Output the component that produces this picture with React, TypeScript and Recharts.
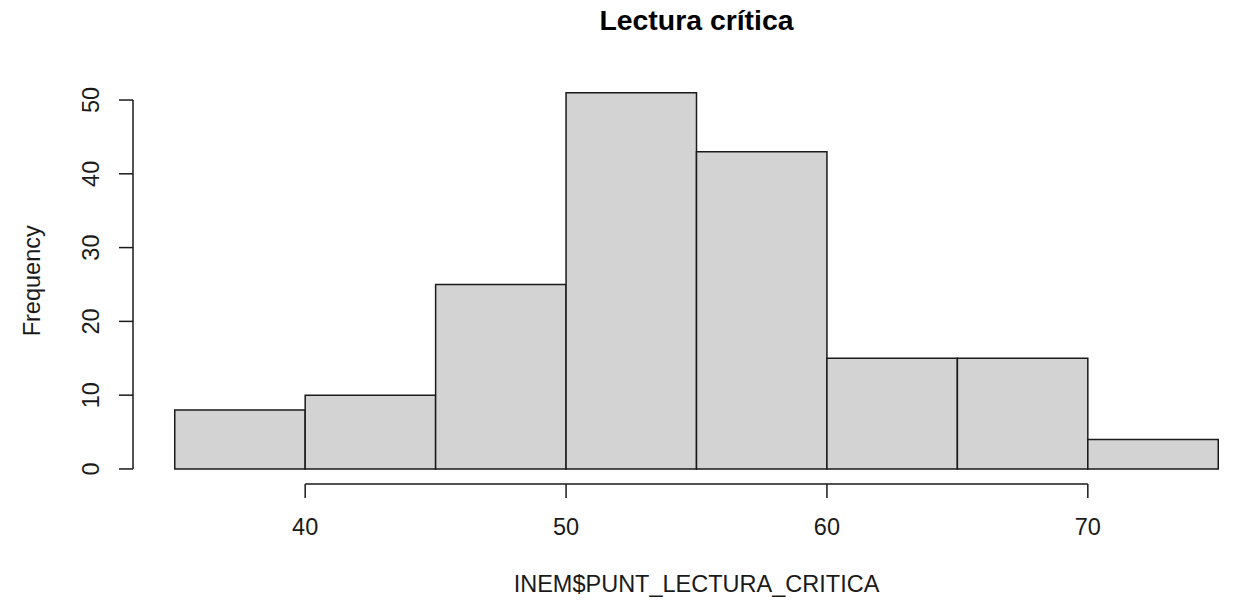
import { ComposedChart, XAxis, YAxis, ReferenceArea, ReferenceLine, Label } from "recharts";

// histogram of INEM$PUNT_LECTURA_CRITICA, breaks every 5 points
const binStarts = [35, 40, 45, 50, 55, 60, 65, 70];
const binWidth = 5;
const counts = [8, 10, 25, 51, 43, 15, 15, 4];
const xTicks = [40, 50, 60, 70];
const yTicks = [0, 10, 20, 30, 40, 50];

const bins = binStarts.map((start, i) => ({ start, end: start + binWidth, count: counts[i] }));

// R pads the axis ranges by 4% on each side
const xLo = binStarts[0];
const xHi = binStarts[binStarts.length - 1] + binWidth;
const yHi = Math.max(...counts);
const xPad = (xHi - xLo) * 0.04;
const yPad = yHi * 0.04;
const xDomain: [number, number] = [xLo - xPad, xHi + xPad];
const yDomain: [number, number] = [-yPad, yHi + yPad];

const font = '"Liberation Sans", Arial, sans-serif';
const ink = "#1a1a1a";

const YTick = (props: any) => {
  const { y, payload } = props;
  const cx = 91;
  return (
    <text
      x={cx}
      y={y}
      dy="0.355em"
      textAnchor="middle"
      transform={`rotate(-90, ${cx}, ${y})`}
      fontSize={23.5}
      fontFamily={font}
      fill={ink}
    >
      {payload.value}
    </text>
  );
};

export default function App() {
  return (
    <div
      style={{
        position: "absolute",
        left: 0,
        top: 0,
        width: 1235,
        height: 603,
        overflow: "hidden",
        background: "#fff",
        fontFamily: font,
      }}
    >
      <div
        style={{
          position: "absolute",
          left: 133,
          width: 1127,
          top: 6,
          textAlign: "center",
          fontSize: 28.4,
          lineHeight: "28px",
          fontWeight: "bold",
          color: "#000",
        }}
      >
        Lectura crítica
      </div>
      <ComposedChart
        width={1300}
        height={603}
        data={bins}
        margin={{ top: 77.6, right: 40, bottom: 0, left: 0 }}
      >
        <XAxis
          dataKey="start"
          type="number"
          domain={xDomain}
          allowDataOverflow
          ticks={xTicks}
          interval={0}
          height={119}
          axisLine={false}
          tickSize={14}
          tickMargin={20}
          tickLine={{ stroke: ink, strokeWidth: 1.5 }}
          tick={{ fontSize: 23.5, fontFamily: font, fill: ink }}
        >
          <Label
            value="INEM$PUNT_LECTURA_CRITICA"
            position="insideBottom"
            offset={11}
            style={{ fontSize: 23.5, fontFamily: font, fill: ink }}
          />
        </XAxis>
        <YAxis
          type="number"
          domain={yDomain}
          allowDataOverflow
          ticks={yTicks}
          interval={0}
          width={133}
          axisLine={false}
          tickSize={14}
          tickLine={{ stroke: ink, strokeWidth: 1.5 }}
          tick={<YTick />}
        >
          <Label
            value="Frequency"
            angle={-90}
            position="insideLeft"
            offset={32}
            style={{ fontSize: 23.5, fontFamily: font, fill: ink, textAnchor: "middle" }}
          />
        </YAxis>
        {bins.map((b) => (
          <ReferenceArea
            key={b.start}
            x1={b.start}
            x2={b.end}
            y1={0}
            y2={b.count}
            fill="#d3d3d3"
            fillOpacity={1}
            stroke={ink}
            strokeWidth={1.5}
            strokeOpacity={1}
            ifOverflow="visible"
          />
        ))}
        <ReferenceLine
          segment={[
            { x: xTicks[0], y: yDomain[0] },
            { x: xTicks[xTicks.length - 1], y: yDomain[0] },
          ]}
          stroke={ink}
          strokeWidth={1.5}
          ifOverflow="visible"
        />
        <ReferenceLine
          segment={[
            { x: xDomain[0], y: yTicks[0] },
            { x: xDomain[0], y: yTicks[yTicks.length - 1] },
          ]}
          stroke={ink}
          strokeWidth={1.5}
          ifOverflow="visible"
        />
      </ComposedChart>
    </div>
  );
}
